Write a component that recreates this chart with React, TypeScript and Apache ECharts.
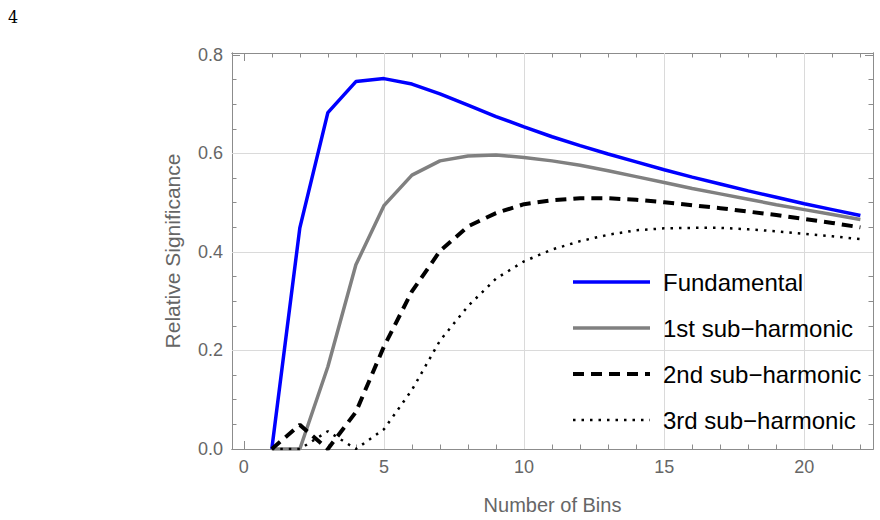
import React, { useEffect, useRef } from "react";
import * as echarts from "echarts";

// number of bins (x) and the relative significance of each harmonic
const bins = [1, 2, 3, 4, 5, 6, 7, 8, 9, 10, 11, 12, 13, 14, 15, 16, 17, 18, 19, 20, 21, 22];
const fundamental = [0, 0.449, 0.683, 0.746, 0.752, 0.741, 0.721, 0.698, 0.675, 0.654, 0.634, 0.616, 0.599, 0.583, 0.567, 0.552, 0.538, 0.524, 0.511, 0.498, 0.486, 0.474];
const firstSub = [0, 0, 0.167, 0.374, 0.494, 0.556, 0.585, 0.595, 0.597, 0.592, 0.585, 0.576, 0.565, 0.553, 0.541, 0.529, 0.518, 0.507, 0.496, 0.486, 0.476, 0.466];
const secondSub = [0, 0.049, 0, 0.075, 0.208, 0.32, 0.402, 0.452, 0.479, 0.497, 0.505, 0.509, 0.509, 0.506, 0.501, 0.495, 0.489, 0.482, 0.475, 0.467, 0.459, 0.45];
const thirdSub = [0, 0, 0.036, 0, 0.04, 0.12, 0.22, 0.29, 0.346, 0.381, 0.405, 0.422, 0.435, 0.444, 0.448, 0.449, 0.449, 0.446, 0.442, 0.437, 0.432, 0.426];

const seriesNames = ["Fundamental", "1st sub\u2212harmonic", "2nd sub\u2212harmonic", "3rd sub\u2212harmonic"];

const xMajorTicks = [0, 5, 10, 15, 20];
const xMinorTicks = [0, 1, 2, 3, 4, 5, 6, 7, 8, 9, 10, 11, 12, 13, 14, 15, 16, 17, 18, 19, 20, 21, 22];
const yMajorTicks = [0, 0.2, 0.4, 0.6, 0.8];
const yMinorTicks = [0.05, 0.1, 0.15, 0.25, 0.3, 0.35, 0.45, 0.5, 0.55, 0.65, 0.7, 0.75];
const xGridLines = [5, 10, 15, 20];
const yGridLines = [0.2, 0.4, 0.6];

const X_MIN = -0.42;
const X_MAX = 22.45;
const Y_MIN = 0;
const Y_MAX = 0.804;

const font = "'Liberation Sans', Arial, Helvetica, sans-serif";
const frameColor = "#8c8c8c";
const labelColor = "#666666";

const toPoints = (values) => bins.map((b, i) => [b, values[i]]);

const xAxisFor = (position, ticks, length, main) => ({
    type: "value",
    position,
    min: X_MIN,
    max: X_MAX,
    name: main ? "Number of Bins" : "",
    nameLocation: "middle",
    nameGap: 46,
    nameTextStyle: { color: labelColor, fontSize: 20, fontFamily: font },
    axisLine: { show: true, onZero: false, lineStyle: { color: frameColor, width: 1 } },
    axisTick: { show: true, inside: true, length, customValues: ticks, lineStyle: { color: frameColor, width: 1 } },
    axisLabel: main
        ? { show: true, customValues: xMajorTicks, margin: 9, color: labelColor, fontSize: 18, fontFamily: font }
        : { show: false },
    splitLine: { show: false },
    minorTick: { show: false },
});

const yAxisFor = (position, ticks, length, main) => ({
    type: "value",
    position,
    min: Y_MIN,
    max: Y_MAX,
    name: main ? "Relative Significance" : "",
    nameLocation: "middle",
    nameGap: 49,
    nameTextStyle: { color: labelColor, fontSize: 21, fontFamily: font },
    axisLine: { show: true, onZero: false, lineStyle: { color: frameColor, width: 1 } },
    axisTick: { show: true, inside: true, length, customValues: ticks, lineStyle: { color: frameColor, width: 1 } },
    axisLabel: main
        ? {
              show: true,
              customValues: yMajorTicks,
              margin: 9,
              color: labelColor,
              fontSize: 18,
              fontFamily: font,
              formatter: (v) => Number(v).toFixed(1),
          }
        : { show: false },
    splitLine: { show: false },
    minorTick: { show: false },
});

const App = () => {
    const chartRef = useRef(null);

    useEffect(() => {
        if (!chartRef.current) return;
        const chart = echarts.init(chartRef.current, null, { renderer: "svg" });

        const options = {
            animation: false,
            grid: { left: 232, right: 7, top: 53, bottom: 71, containLabel: false },
            xAxis: [
                xAxisFor("bottom", xMajorTicks, 8, true),
                xAxisFor("bottom", xMinorTicks, 4.5, false),
                xAxisFor("top", xMajorTicks, 8, false),
                xAxisFor("top", xMinorTicks, 4.5, false),
            ],
            yAxis: [
                yAxisFor("left", yMajorTicks, 8, true),
                yAxisFor("left", yMinorTicks, 4.5, false),
                yAxisFor("right", yMajorTicks, 8, false),
                yAxisFor("right", yMinorTicks, 4.5, false),
            ],
            legend: {
                orient: "vertical",
                left: 571,
                top: 270,
                padding: 0,
                itemWidth: 77,
                itemHeight: 14,
                itemGap: 22,
                selectedMode: false,
                data: seriesNames,
                itemStyle: { opacity: 0 },
                lineStyle: { width: "inherit" },
                textStyle: { fontSize: 24, color: "#000", fontFamily: font, padding: [0, 0, 0, 8] },
            },
            graphic: [
                {
                    type: "text",
                    left: 8,
                    top: 9,
                    style: { text: "4", font: "16px 'DejaVu Serif', serif", fill: "#000" },
                },
            ],
            series: [
                {
                    name: "grid",
                    type: "line",
                    data: toPoints(fundamental),
                    symbol: "none",
                    silent: true,
                    lineStyle: { opacity: 0 },
                    markLine: {
                        silent: true,
                        z: 1,
                        symbol: "none",
                        label: { show: false },
                        lineStyle: { color: "#dadada", width: 1, type: "solid" },
                        data: [
                            ...xGridLines.map((v) => ({ xAxis: v })),
                            ...yGridLines.map((v) => ({ yAxis: v })),
                        ],
                    },
                },
                {
                    name: seriesNames[0],
                    type: "line",
                    data: toPoints(fundamental),
                    symbol: "none",
                    itemStyle: { color: "#0000ff" },
                    lineStyle: { color: "#0000ff", width: 3.5 },
                },
                {
                    name: seriesNames[1],
                    type: "line",
                    data: toPoints(firstSub),
                    symbol: "none",
                    itemStyle: { color: "#808080" },
                    lineStyle: { color: "#808080", width: 3.5 },
                },
                {
                    name: seriesNames[2],
                    type: "line",
                    data: toPoints(secondSub),
                    symbol: "none",
                    itemStyle: { color: "#000" },
                    lineStyle: { color: "#000", width: 4, type: [11, 7] },
                },
                {
                    name: seriesNames[3],
                    type: "line",
                    data: toPoints(thirdSub),
                    symbol: "none",
                    itemStyle: { color: "#000" },
                    lineStyle: { color: "#000", width: 2.5, type: [2.5, 6] },
                },
            ],
        };

        chart.setOption(options);
        return () => chart.dispose();
    }, []);

    return <div ref={chartRef} style={{ position: "absolute", left: 0, top: 0, width: "880px", height: "520px" }} />;
};

export default App;
